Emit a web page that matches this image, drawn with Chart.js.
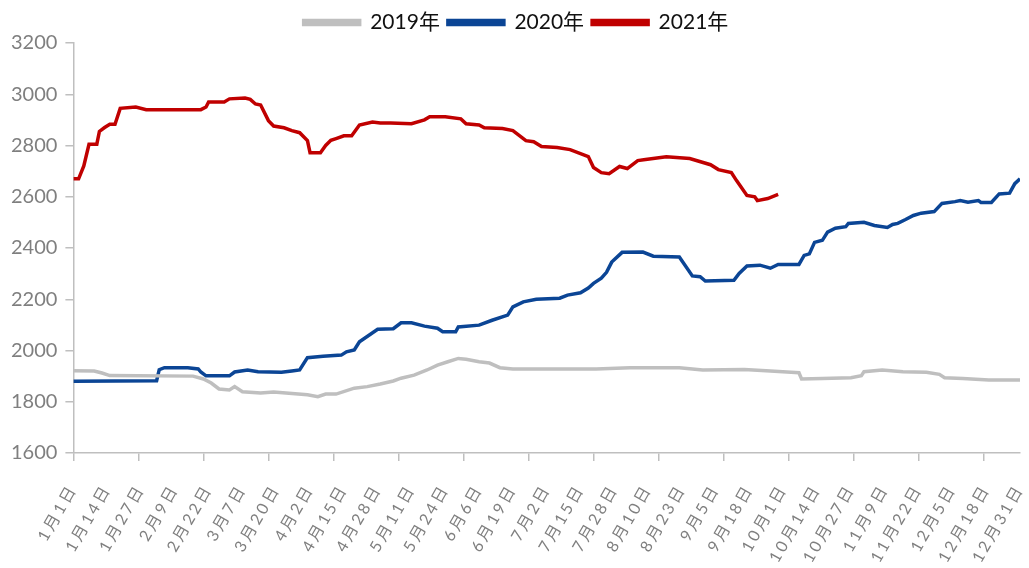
<!DOCTYPE html>
<html>
<head>
<meta charset="utf-8">
<script src="https://cdn.jsdelivr.net/npm/chart.js@4"></script>
<style>
  html, body { margin: 0; padding: 0; background: #fff; }
  #wrap { width: 1029px; height: 568px; position: relative; }
</style>
</head>
<body>
<div id="wrap"><canvas id="chart"></canvas></div>
<script>
// x tick labels, one every 13 days (day 0 = 1月1日)
const tickLabels = ['1月1日', '1月14日', '1月27日', '2月9日', '2月22日', '3月7日', '3月20日', '4月2日',
  '4月15日', '4月28日', '5月11日', '5月24日', '6月6日', '6月19日', '7月2日', '7月15日', '7月28日',
  '8月10日', '8月23日', '9月5日', '9月18日', '10月1日', '10月14日', '10月27日', '11月9日',
  '11月22日', '12月5日', '12月18日', '12月31日'];

const seriesNames = ['2019年', '2020年', '2021年'];
const seriesColors = ['#BFBFBF', '#0B4595', '#C00000'];

// day of year -> price
const days2019 = [0, 8, 11, 14, 46, 50, 53, 56, 60, 62, 65, 72, 77, 90, 94, 97, 101, 108, 113, 118, 123, 126, 131, 136,
  140, 144, 148, 151, 156, 160, 164, 169, 201, 214, 233, 242, 258, 268, 276, 279, 280, 288, 299, 303, 304, 311, 319,
  328, 333, 335, 342, 352, 364];
const price2019 = [1921, 1920, 1912, 1902, 1900, 1889, 1873, 1850, 1846, 1859, 1839, 1834, 1838, 1827, 1820, 1830, 1830,
  1853, 1859, 1869, 1881, 1892, 1904, 1924, 1943, 1956, 1969, 1966, 1956, 1951, 1933, 1928, 1928, 1933, 1933, 1924,
  1926, 1920, 1915, 1913, 1889, 1891, 1894, 1902, 1917, 1924, 1917, 1915, 1907, 1894, 1891, 1885, 1885];

const days2020 = [0, 32, 33, 35, 44, 48, 49, 51, 60, 62, 67, 71, 80, 84, 87, 90, 96, 103, 105, 108, 110, 117, 123, 126,
  130, 135, 140, 142, 147, 148, 156, 161, 167, 169, 173, 178, 187, 190, 195, 198, 200, 203, 205, 207, 211, 219, 223,
  233, 238, 241, 243, 254, 256, 259, 264, 268, 271, 279, 281, 283, 285, 288, 290, 293, 297, 298, 304, 308, 313, 315,
  317, 320, 323, 326, 331, 334, 339, 341, 344, 348, 349, 353, 356, 360, 362, 364];
const price2020 = [1880, 1882, 1925, 1933, 1933, 1928, 1916, 1901, 1901, 1916, 1924, 1917, 1915, 1920, 1924, 1972, 1978,
  1982, 1995, 2002, 2034, 2083, 2085, 2108, 2108, 2095, 2087, 2073, 2073, 2092, 2099, 2118, 2138, 2170, 2190, 2200,
  2204, 2216, 2225, 2244, 2262, 2282, 2305, 2345, 2383, 2384, 2368, 2365, 2291, 2288, 2271, 2274, 2301, 2330, 2333,
  2321, 2336, 2336, 2371, 2377, 2422, 2430, 2462, 2477, 2483, 2496, 2500, 2488, 2480, 2492, 2496, 2511, 2527, 2536,
  2542, 2574, 2581, 2585, 2579, 2585, 2578, 2578, 2611, 2614, 2651, 2670];

const days2021 = [0, 2, 4, 6, 9, 10, 12, 14, 16, 18, 24, 28, 49, 51, 52, 58, 60, 66, 68, 70, 72, 75, 77, 81, 84, 87,
  90, 91, 95, 97, 99, 101, 104, 107, 110, 115, 118, 122, 130, 135, 137, 143, 149, 151, 156, 158, 165, 169, 174, 177,
  180, 186, 191, 198, 200, 203, 206, 210, 213, 217, 220, 228, 237, 245, 248, 253, 255, 259, 262, 263, 267, 271];
const price2021 = [2670, 2670, 2720, 2805, 2805, 2855, 2870, 2883, 2883, 2945, 2950, 2940, 2940, 2950, 2970, 2970, 2982,
  2985, 2980, 2962, 2958, 2897, 2876, 2869, 2858, 2850, 2819, 2772, 2772, 2800, 2820, 2827, 2838, 2838, 2880, 2892,
  2888, 2888, 2885, 2900, 2912, 2912, 2904, 2885, 2880, 2869, 2866, 2858, 2819, 2815, 2796, 2792, 2784, 2757, 2714,
  2694, 2690, 2718, 2710, 2741, 2745, 2756, 2749, 2725, 2706, 2694, 2663, 2605, 2600, 2585, 2593, 2609];

const allDays = [days2019, days2020, days2021];
const allPrices = [price2019, price2020, price2021];

const labelFont = "Lato, 'Noto Sans CJK SC', sans-serif";
const axisGray = '#BFBFBF';
const textGray = '#7F7F7F';

const datasets = seriesNames.map((name, i) => ({
  label: name,
  data: allDays[i].map((d, k) => ({ x: d, y: allPrices[i][k] })),
  borderColor: seriesColors[i],
  backgroundColor: seriesColors[i],
  borderWidth: 3.5,
  pointRadius: 0,
  tension: 0
}));

// the original date labels are set loosely, so add letter spacing to the x labels only
const spacedLabels = {
  id: 'spacedLabels',
  beforeDraw(chart) {
    const s = chart.scales.x;
    if (!s || s._spaced) return;
    const orig = s.drawLabels.bind(s);
    s.drawLabels = area => {
      s.ctx.save();
      s.ctx.letterSpacing = '3px';
      orig(area);
      s.ctx.restore();
    };
    s._spaced = true;
  }
};

new Chart(document.getElementById('chart'), {
  type: 'line',
  data: { datasets: datasets },
  plugins: [spacedLabels],
  options: {
    responsive: true,
    maintainAspectRatio: false,
    animation: false,
    layout: { padding: { left: 3, right: 0, top: 4, bottom: 0 } },
    plugins: {
      tooltip: { enabled: false },
      legend: {
        position: 'top',
        labels: {
          boxWidth: 56,
          boxHeight: 4,
          padding: 8,
          color: '#111',
          font: { family: labelFont, size: 21 }
        }
      }
    },
    scales: {
      x: {
        type: 'linear',
        min: 0,
        max: 364,
        weight: 1,
        grid: { display: false },
        border: { display: false },
        ticks: {
          stepSize: 13,
          autoSkip: false,
          maxRotation: 60,
          minRotation: 60,
          padding: 12,
          color: textGray,
          font: { family: labelFont, size: 16 },
          callback: v => tickLabels[Math.round(v / 13)]
        },
        // the labels run off the bottom edge as in the original, keep the plot height fixed
        afterFit: scale => {
          scale.height = 107;
          scale.paddingRight = 9;
        }
      },
      xMarks: {
        type: 'linear',
        position: 'bottom',
        min: 0,
        max: 364,
        weight: 0,
        grid: { drawOnChartArea: false, color: axisGray, lineWidth: 1.5, tickLength: 8 },
        border: { color: axisGray, width: 1.5 },
        ticks: { display: false, stepSize: 25, includeBounds: false }
      },
      y: {
        min: 1600,
        max: 3200,
        grid: { drawOnChartArea: false, color: axisGray, lineWidth: 1.5, tickLength: 8 },
        border: { color: axisGray, width: 1.5 },
        ticks: {
          stepSize: 200,
          padding: 8,
          color: textGray,
          font: { family: labelFont, size: 20 },
          callback: v => String(v)
        }
      }
    }
  }
});
</script>
</body>
</html>
